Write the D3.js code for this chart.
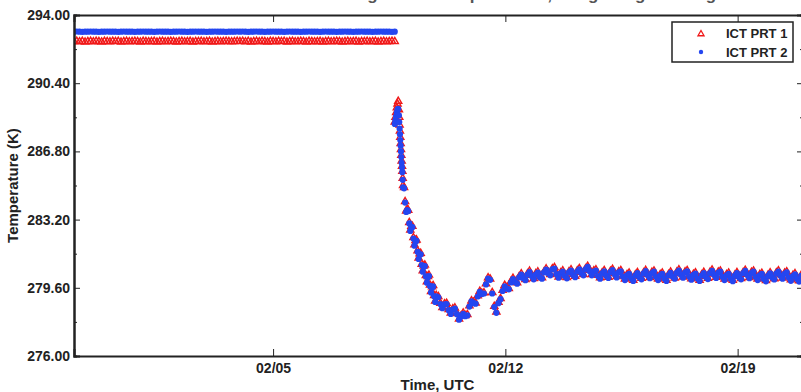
<!DOCTYPE html>
<html>
<head>
<meta charset="utf-8">
<script src="https://cdn.jsdelivr.net/npm/d3@7"></script>
<style>
  body { margin: 0; background: #fff; }
  svg { display: block; font-family: "Liberation Sans", Arial, Helvetica, sans-serif; }
</style>
</head>
<body>
<div id="chart"></div>
<script>
// ---- data ----
var chartTitle = "AERI Internal Calibration Target PRT Temperatures, Long Range Averages";
var seriesNames = ["ICT PRT 1", "ICT PRT 2"];
var xTickDates = ["2011-02-05", "2011-02-12", "2011-02-19"];
var yTickValues = [276, 279.6, 283.2, 286.8, 290.4, 294];
var yMinorValues = [277.8, 281.4, 285.0, 288.6, 292.2];

// first part: every 2 hours from Jan 30 00:00 UTC
var flatStart = "2011-01-30T00:00:00Z";
var flatHours = d3.range(0, 233, 2);
var prt1Flat = [
  292.60, 292.62, 292.59, 292.61, 292.58, 292.60, 292.61, 292.59, 292.62, 292.60,
  292.58, 292.61, 292.60, 292.59, 292.62, 292.60, 292.61, 292.58, 292.60, 292.61,
  292.59, 292.60, 292.62, 292.60, 292.58, 292.61, 292.60, 292.59, 292.60, 292.61,
  292.58, 292.60, 292.61, 292.59, 292.60, 292.62, 292.60, 292.58, 292.60, 292.61,
  292.59, 292.60, 292.61, 292.58, 292.60, 292.60, 292.62, 292.59, 292.60, 292.61,
  292.58, 292.60, 292.61, 292.59, 292.60, 292.62, 292.60, 292.59, 292.60, 292.61,
  292.60, 292.62, 292.59, 292.61, 292.58, 292.60, 292.61, 292.59, 292.62, 292.60,
  292.58, 292.61, 292.60, 292.59, 292.62, 292.60, 292.61, 292.58, 292.60, 292.61,
  292.59, 292.60, 292.62, 292.60, 292.58, 292.61, 292.60, 292.59, 292.60, 292.61,
  292.58, 292.60, 292.61, 292.59, 292.60, 292.62, 292.60, 292.58, 292.60, 292.61,
  292.59, 292.60, 292.61, 292.58, 292.60, 292.60, 292.62, 292.59, 292.60, 292.61,
  292.58, 292.60, 292.61, 292.59, 292.60, 292.62, 292.60
];
var prt2Flat = [
  293.12, 293.13, 293.12, 293.11, 293.12, 293.12, 293.13, 293.12, 293.12, 293.11,
  293.12, 293.12, 293.13, 293.12, 293.12, 293.12, 293.11, 293.12, 293.13, 293.12,
  293.12, 293.12, 293.11, 293.12, 293.12, 293.13, 293.12, 293.12, 293.12, 293.11,
  293.12, 293.13, 293.12, 293.12, 293.12, 293.11, 293.12, 293.12, 293.13, 293.12,
  293.12, 293.11, 293.12, 293.12, 293.13, 293.12, 293.12, 293.12, 293.11, 293.12,
  293.12, 293.13, 293.12, 293.12, 293.12, 293.11, 293.12, 293.12, 293.12, 293.13,
  293.12, 293.13, 293.12, 293.11, 293.12, 293.12, 293.13, 293.12, 293.12, 293.11,
  293.12, 293.12, 293.13, 293.12, 293.12, 293.12, 293.11, 293.12, 293.13, 293.12,
  293.12, 293.12, 293.11, 293.12, 293.12, 293.13, 293.12, 293.12, 293.12, 293.11,
  293.12, 293.13, 293.12, 293.12, 293.12, 293.11, 293.12, 293.12, 293.13, 293.12,
  293.12, 293.11, 293.12, 293.12, 293.13, 293.12, 293.12, 293.12, 293.11, 293.12,
  293.12, 293.13, 293.12, 293.12, 293.12, 293.11, 293.12
];

// second part: hours after Feb 8 16:00 UTC (fine steps during the jump and the fast fall)
var coolStart = "2011-02-08T16:00:00Z";
var coolHours = [0, 0.5, 1, 1.5, 2, 2.5, 3, 3.25, 3.5, 3.75, 4, 4.25, 4.5, 4.75, 5, 5.25, 5.5, 5.75, 6]
  .concat(d3.range(6.75, 30.5, 0.75), d3.range(31.5, 295, 1.5));
var prt1Cool = [
  288.35, 288.60, 288.85, 289.10, 289.30, 289.45, 289.00, 288.60, 288.20, 287.88, 287.55, 287.22, 286.90, 286.60, 286.30, 286.02, 285.75, 285.38, 285.00,
  284.90, 284.15, 283.65, 283.75, 283.70, 283.05, 282.65, 282.85, 282.85, 282.25, 281.87, 282.10, 282.13, 281.55, 281.17, 281.40,
  281.42, 280.85, 280.50, 280.75, 280.80, 280.25, 279.92, 280.20, 280.27, 279.75, 279.40, 279.65, 279.72, 279.20, 278.90, 279.20,
  279.14, 278.79, 278.56, 278.76, 278.78, 278.46, 278.27, 278.49, 278.54, 278.25, 277.96, 278.13,
  278.27, 278.14, 278.19, 278.65, 278.92, 278.84, 278.80, 279.18, 279.42, 279.32, 279.34, 279.82,
  280.13, 280.06, 279.35, 278.62, 278.32, 278.84, 279.04, 279.47, 279.73, 279.60, 279.56, 279.93,
  280.10, 279.94, 279.87, 280.19, 280.34, 280.16, 280.04, 280.34, 280.48, 280.26, 280.09, 280.35,
  280.44, 280.20, 280.13, 280.45, 280.60, 280.42, 280.30, 280.61, 280.67, 280.36, 280.17, 280.40,
  280.50, 280.27, 280.14, 280.45, 280.55, 280.31, 280.21, 280.50, 280.62, 280.42, 280.30, 280.61,
  280.74, 280.53, 280.30, 280.50, 280.55, 280.26, 280.13, 280.40, 280.51, 280.29, 280.16, 280.47,
  280.58, 280.36, 280.20, 280.45, 280.51, 280.23, 280.06, 280.30, 280.38, 280.14, 280.00, 280.29,
  280.41, 280.20, 280.10, 280.40, 280.52, 280.31, 280.15, 280.42, 280.49, 280.22, 280.06, 280.30,
  280.38, 280.14, 280.00, 280.30, 280.43, 280.24, 280.12, 280.43, 280.55, 280.34, 280.17, 280.44,
  280.51, 280.24, 280.08, 280.32, 280.39, 280.14, 280.00, 280.29, 280.42, 280.21, 280.11, 280.42,
  280.54, 280.33, 280.16, 280.43, 280.49, 280.22, 280.06, 280.30, 280.38, 280.12, 280.00, 280.28,
  280.41, 280.21, 280.09, 280.41, 280.53, 280.32, 280.15, 280.42, 280.49, 280.22, 280.06, 280.30,
  280.37, 280.12, 279.98, 280.27, 280.40, 280.20, 280.08, 280.39, 280.50, 280.29, 280.12, 280.38,
  280.45, 280.18, 280.02, 280.26, 280.35, 280.11, 279.97, 280.27
];
var prt2Cool = [
  288.25, 288.45, 288.65, 288.85, 289.00, 289.05, 288.70, 288.35, 288.00, 287.70, 287.40, 287.10, 286.80, 286.50, 286.20, 285.95, 285.70, 285.30, 284.90,
  284.85, 284.10, 283.60, 283.70, 283.65, 283.00, 282.60, 282.80, 282.80, 282.20, 281.82, 282.05, 282.08, 281.50, 281.12, 281.35,
  281.37, 280.80, 280.45, 280.70, 280.75, 280.20, 279.87, 280.15, 280.22, 279.70, 279.35, 279.60, 279.67, 279.15, 278.85, 279.15,
  279.10, 278.74, 278.52, 278.72, 278.74, 278.42, 278.22, 278.45, 278.50, 278.21, 277.92, 278.08,
  278.23, 278.10, 278.14, 278.61, 278.88, 278.79, 278.76, 279.14, 279.38, 279.27, 279.30, 279.78,
  280.08, 280.02, 279.30, 278.58, 278.28, 278.79, 279.00, 279.43, 279.68, 279.56, 279.52, 279.88,
  280.06, 279.90, 279.82, 280.15, 280.30, 280.11, 280.00, 280.30, 280.43, 280.22, 280.05, 280.30,
  280.40, 280.16, 280.08, 280.41, 280.56, 280.37, 280.26, 280.57, 280.62, 280.32, 280.13, 280.36,
  280.46, 280.22, 280.10, 280.41, 280.51, 280.27, 280.16, 280.46, 280.58, 280.37, 280.26, 280.57,
  280.70, 280.48, 280.26, 280.46, 280.51, 280.22, 280.08, 280.36, 280.47, 280.24, 280.12, 280.43,
  280.54, 280.32, 280.15, 280.41, 280.47, 280.19, 280.01, 280.26, 280.34, 280.09, 279.96, 280.25,
  280.37, 280.16, 280.05, 280.36, 280.48, 280.26, 280.11, 280.38, 280.45, 280.18, 280.01, 280.26,
  280.34, 280.09, 279.96, 280.26, 280.39, 280.19, 280.08, 280.39, 280.51, 280.29, 280.13, 280.40,
  280.47, 280.20, 280.03, 280.28, 280.35, 280.09, 279.96, 280.25, 280.38, 280.17, 280.06, 280.38,
  280.50, 280.28, 280.12, 280.39, 280.45, 280.18, 280.01, 280.26, 280.34, 280.08, 279.95, 280.24,
  280.37, 280.16, 280.05, 280.37, 280.49, 280.27, 280.11, 280.38, 280.45, 280.18, 280.01, 280.26,
  280.33, 280.07, 279.94, 280.23, 280.36, 280.15, 280.04, 280.35, 280.46, 280.24, 280.08, 280.34,
  280.41, 280.14, 279.97, 280.22, 280.31, 280.06, 279.93, 280.23
];

// ---- layout ----
var W = 801, H = 392;
var margin = { top: 15, right: -3, bottom: 36, left: 74 };
var w = W - margin.left - margin.right;
var h = H - margin.top - margin.bottom;

var red = "#f01818", blue = "#2446f0", axisColor = "#222";

function toPoints(start, hours, values) {
    var t0 = new Date(start).getTime();
    return hours.map(function (hr, i) {
        return { t: new Date(t0 + hr * 3600000), v: values[i] };
    });
}

var prt1 = toPoints(flatStart, flatHours, prt1Flat).concat(toPoints(coolStart, coolHours, prt1Cool));
var prt2 = toPoints(flatStart, flatHours, prt2Flat).concat(toPoints(coolStart, coolHours, prt2Cool));

var x = d3.scaleUtc()
    .domain([new Date("2011-01-30T00:00:00Z"), new Date("2011-02-21T00:00:00Z")])
    .range([0, w]);
var y = d3.scaleLinear().domain([276, 294]).range([h, 0]);

var svg = d3.select("#chart").append("svg").attr("width", W).attr("height", H);

// title sits above the top edge, only its descenders show (as in the original)
svg.append("text")
    .attr("x", margin.left + w / 2 - 3).attr("y", -0.5)
    .attr("text-anchor", "middle")
    .attr("font-size", "17px").attr("font-weight", "bold")
    .attr("fill", "#555")
    .text(chartTitle);

var g = svg.append("g").attr("transform", "translate(" + margin.left + "," + margin.top + ")");

g.append("clipPath").attr("id", "clip")
    .append("rect").attr("width", w).attr("height", h);

var xTicks = xTickDates.map(function (d) { return new Date(d + "T00:00:00Z"); });
var fmt = d3.utcFormat("%m/%d");

// markers (drawn under the axes)
var plot = g.append("g").attr("clip-path", "url(#clip)");

var tri = d3.symbol().type(d3.symbolTriangle).size(22);
plot.append("g").selectAll("path").data(prt1).enter().append("path")
    .attr("d", tri)
    .attr("transform", function (d) { return "translate(" + x(d.t) + "," + y(d.v) + ")"; })
    .attr("fill", "none").attr("stroke", red).attr("stroke-width", 1.4);

plot.append("g").selectAll("circle").data(prt2).enter().append("circle")
    .attr("cx", function (d) { return x(d.t); })
    .attr("cy", function (d) { return y(d.v); })
    .attr("r", 3.1)
    .attr("fill", blue);

// axes
var gx = g.append("g").attr("transform", "translate(0," + h + ")")
    .call(d3.axisBottom(x).tickValues(xTicks).tickFormat(fmt).tickSize(-7).tickPadding(7));
var gxTop = g.append("g")
    .call(d3.axisTop(x).tickValues(xTicks).tickFormat("").tickSize(-7));
var gy = g.append("g")
    .call(d3.axisLeft(y).tickValues(yTickValues).tickFormat(d3.format(".2f")).tickSize(-6).tickPadding(4));
var gyMinor = g.append("g")
    .call(d3.axisLeft(y).tickValues(yMinorValues).tickFormat("").tickSize(-3));
var gyRight = g.append("g").attr("transform", "translate(" + w + ",0)")
    .call(d3.axisRight(y).tickValues(yTickValues).tickFormat("").tickSize(-7));
var gyRightMinor = g.append("g").attr("transform", "translate(" + w + ",0)")
    .call(d3.axisRight(y).tickValues(yMinorValues).tickFormat("").tickSize(-4));

[gx, gxTop, gy, gyMinor, gyRight, gyRightMinor].forEach(function (a) {
    a.select(".domain").attr("stroke", axisColor).attr("stroke-width", 2);
    a.selectAll(".tick line").attr("stroke", axisColor).attr("stroke-width", 1);
    a.selectAll("text").attr("fill", axisColor)
        .attr("font-size", "14px").attr("font-weight", "bold")
        .attr("font-family", "'Liberation Sans', Arial, sans-serif");
});

// axis titles
svg.append("text")
    .attr("x", margin.left + (801 - margin.left) / 2).attr("y", 390)
    .attr("text-anchor", "middle")
    .attr("font-size", "15px").attr("font-weight", "bold").attr("fill", axisColor)
    .text("Time, UTC");

svg.append("text")
    .attr("transform", "translate(18," + (margin.top + h / 2) + ")rotate(-90)")
    .attr("text-anchor", "middle")
    .attr("font-size", "15px").attr("font-weight", "bold").attr("fill", axisColor)
    .text("Temperature (K)");

// legend
var legTri = d3.symbol().type(d3.symbolTriangle).size(16);
var lg = svg.append("g").attr("transform", "translate(672,22)");
lg.append("rect").attr("width", 121).attr("height", 40)
    .attr("fill", "#fff").attr("stroke", axisColor).attr("stroke-width", 1.5);
lg.append("path").attr("d", legTri).attr("transform", "translate(29,12)")
    .attr("fill", "none").attr("stroke", red).attr("stroke-width", 1.3);
lg.append("circle").attr("cx", 29).attr("cy", 30).attr("r", 2.2).attr("fill", blue);
lg.selectAll("text").data(seriesNames).enter().append("text")
    .attr("x", 54).attr("y", function (d, i) { return 16 + i * 19; })
    .attr("font-size", "13px").attr("font-weight", "bold").attr("fill", axisColor)
    .text(function (d) { return d; });
</script>
</body>
</html>
